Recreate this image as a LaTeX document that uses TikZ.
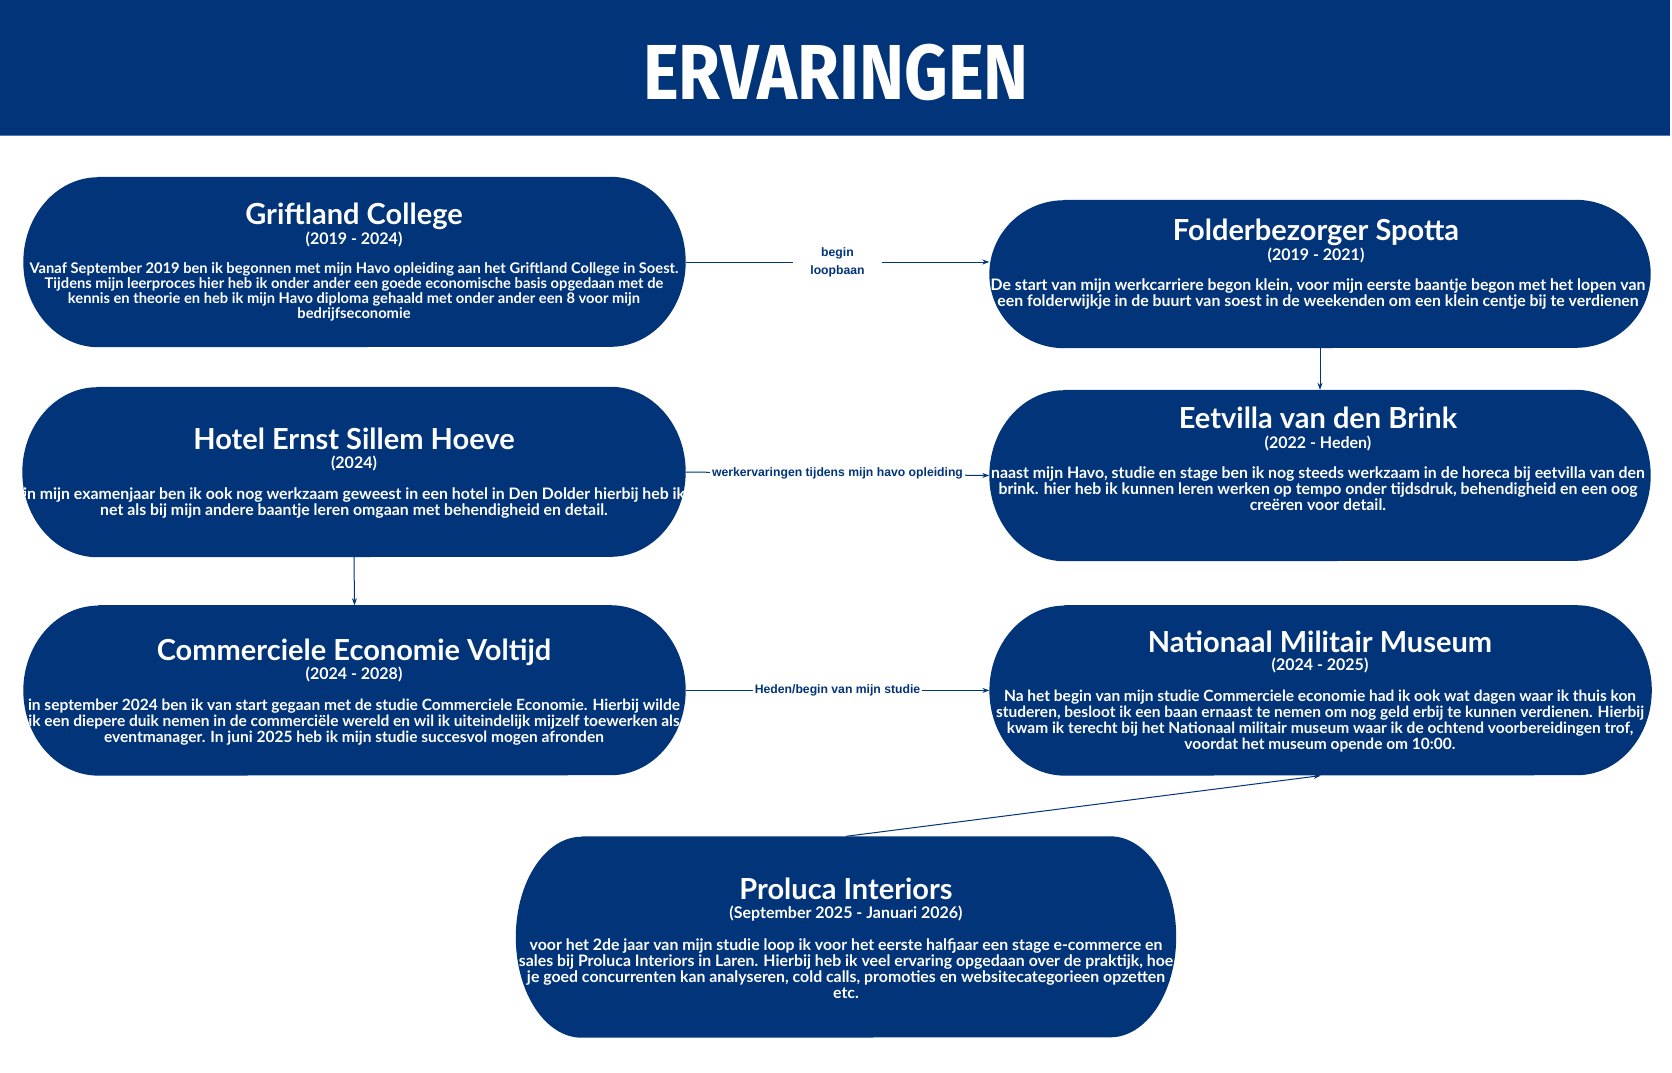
\documentclass[tikz,border=0pt]{standalone}
\usepackage{fontspec}
\setmainfont{Lato}
\newfontfamily\headfont{Fira Sans}[FakeStretch=0.87]
\newfontfamily\labfont{Liberation Sans}
\usetikzlibrary{arrows.meta}
\definecolor{navy}{RGB}{1,52,120}
\definecolor{bandedge}{RGB}{80,120,185}
\newcommand\cardfill[3]{\fill[navy] ([xshift=#2]#1.north west) -- ([xshift=-#2]#1.north east) arc[start angle=90,end angle=-90,x radius=#2,y radius=#3] -- ([xshift=#2]#1.south west) arc[start angle=270,end angle=90,x radius=#2,y radius=#3] -- cycle;}
\newcommand\cardclip[3]{\clip ([xshift=#2]#1.north west) -- ([xshift=-#2]#1.north east) arc[start angle=90,end angle=-90,x radius=#2,y radius=#3] -- ([xshift=#2]#1.south west) arc[start angle=270,end angle=90,x radius=#2,y radius=#3] -- cycle;}
\begin{document}
\begin{tikzpicture}[x=1pt,y=-1pt,
  cardbox/.style={rectangle,draw=none,inner sep=0pt},
  ctitle/.style={text=white,font=\bfseries\fontsize{29}{32}\selectfont,inner sep=0pt,text height=21pt,text depth=0pt},
  cdate/.style={text=white,font=\bfseries\fontsize{16}{18}\selectfont,inner sep=0pt,text height=11.5pt,text depth=0pt},
  cbody/.style={text=white,font=\bfseries\fontsize{15.85}{16}\selectfont,align=center,inner sep=0pt},
  cbodymid/.style={cbody,font=\bfseries\fontsize{15.5}{16}\selectfont},
  cbodysmall/.style={cbody,font=\bfseries\fontsize{14.7}{15.2}\selectfont},
  conn/.style={draw=navy,line width=1pt,-{Stealth[length=7pt,width=5pt]}},
  lab/.style={fill=white,text=navy,font=\labfont\bfseries\fontsize{12.2}{18}\selectfont,inner xsep=2pt,inner ysep=1pt,align=center}]
\useasboundingbox (0,0) rectangle (1672,1072);
\fill[white] (0,0) rectangle (1672,1072);
% header band
\node[cardbox,fill=navy,minimum width=1670pt,minimum height=135pt,anchor=north west] (band) at (0,0) {};
\draw[bandedge,line width=0.8pt] (band.south west) -- (band.south east);
\node[text=white,font=\headfont\bfseries\fontsize{78}{80}\selectfont,inner sep=0pt,text height=54pt,text depth=0pt] (head) at (836,72) {ERVARINGEN};
% card frames
\node[cardbox,minimum width=662pt,minimum height=170pt] (grift) at (354.5,262) {};
\node[cardbox,minimum width=661pt,minimum height=148pt] (folder) at (1320,274) {};
\node[cardbox,minimum width=663pt,minimum height=170pt] (hotel) at (354,472) {};
\node[cardbox,minimum width=661pt,minimum height=171pt] (eet) at (1320,475.5) {};
\node[cardbox,minimum width=662pt,minimum height=170pt] (comm) at (354.5,690.4) {};
\node[cardbox,minimum width=662pt,minimum height=170pt] (nmm) at (1320.6,690.4) {};
\node[cardbox,minimum width=660pt,minimum height=201pt] (prol) at (846,937) {};
\cardfill{grift}{75pt}{85pt}
\cardfill{folder}{75pt}{74pt}
\cardfill{hotel}{75pt}{85pt}
\cardfill{eet}{75pt}{85.5pt}
\cardfill{comm}{75pt}{85pt}
\cardfill{nmm}{75pt}{85pt}
\cardfill{prol}{66pt}{100.5pt}
% texts
\begin{scope}
\cardclip{grift}{75pt}{85pt}
\node[ctitle] (grift-t) at (354,214) {Griftland College};
\node[cdate] (grift-d) at (354,239) {(2019 - 2024)};
\node[cbodysmall] (grift-b) at (354,292) {Vanaf September 2019 ben ik begonnen met mijn Havo opleiding aan het Griftland College in Soest.\\Tijdens mijn leerproces hier heb ik onder ander een goede economische basis opgedaan met de\\kennis en theorie en heb ik mijn Havo diploma gehaald met onder ander een 8 voor mijn\\bedrijfseconomie};
\end{scope}
\begin{scope}
\cardclip{folder}{75pt}{74pt}
\node[ctitle] (folder-t) at (1316,230) {Folderbezorger Spotta};
\node[cdate] (folder-d) at (1316,255) {(2019 - 2021)};
\node[cbody] (folder-b) at (1318,294) {De start van mijn werkcarriere begon klein, voor mijn eerste baantje begon met het lopen van\\een folderwijkje in de buurt van soest in de weekenden om een klein centje bij te verdienen};
\end{scope}
\begin{scope}
\cardclip{hotel}{75pt}{85pt}
\node[ctitle] (hotel-t) at (354,439) {Hotel Ernst Sillem Hoeve};
\node[cdate] (hotel-d) at (354,463) {(2024)};
\node[cbody] (hotel-b) at (354,503) {in mijn examenjaar ben ik ook nog werkzaam geweest in een hotel in Den Dolder hierbij heb ik\\net als bij mijn andere baantje leren omgaan met behendigheid en detail.};
\end{scope}
\begin{scope}
\cardclip{eet}{75pt}{85.5pt}
\node[ctitle] (eet-t) at (1318,418) {Eetvilla van den Brink};
\node[cdate] (eet-d) at (1318,442.5) {(2022 - Heden)};
\node[cbody] (eet-b) at (1318,489) {naast mijn Havo, studie en stage ben ik nog steeds werkzaam in de horeca bij eetvilla van den\\brink. hier heb ik kunnen leren werken op tempo onder tijdsdruk, behendigheid en een oog\\creëren voor detail.};
\end{scope}
\begin{scope}
\cardclip{comm}{75pt}{85pt}
\node[ctitle] (comm-t) at (354,650) {Commerciele Economie Voltijd};
\node[cdate] (comm-d) at (354,674) {(2024 - 2028)};
\node[cbodymid] (comm-b) at (354,722) {in september 2024 ben ik van start gegaan met de studie Commerciele Economie. Hierbij wilde\\ik een diepere duik nemen in de commerciële wereld en wil ik uiteindelijk mijzelf toewerken als\\eventmanager. In juni 2025 heb ik mijn studie succesvol mogen afronden};
\end{scope}
\begin{scope}
\cardclip{nmm}{75pt}{85pt}
\node[ctitle] (nmm-t) at (1320,642) {Nationaal Militair Museum};
\node[cdate] (nmm-d) at (1320,665) {(2024 - 2025)};
\node[cbodymid] (nmm-b) at (1320,721) {Na het begin van mijn studie Commerciele economie had ik ook wat dagen waar ik thuis kon\\studeren, besloot ik een baan ernaast te nemen om nog geld erbij te kunnen verdienen. Hierbij\\kwam ik terecht bij het Nationaal militair museum waar ik de ochtend voorbereidingen trof,\\voordat het museum opende om 10:00.};
\end{scope}
\begin{scope}
\cardclip{prol}{66pt}{100.5pt}
\node[ctitle] (prol-t) at (846,889) {Proluca Interiors};
\node[cdate] (prol-d) at (846,913) {(September 2025 - Januari 2026)};
\node[cbody] (prol-b) at (846,968.5) {voor het 2de jaar van mijn studie loop ik voor het eerste halfjaar een stage e-commerce en\\sales bij Proluca Interiors in Laren. Hierbij heb ik veel ervaring opgedaan over de praktijk, hoe\\je goed concurrenten kan analyseren, cold calls, promoties en websitecategorieen opzetten\\etc.};
\end{scope}
% connectors
\draw[conn] (grift.east) -- node[lab,inner xsep=17pt] (lab1) {begin\\loopbaan} (folder.west |- grift.east);
\draw[conn] (folder.south) -- (eet.north);
\draw[conn] (hotel.east) -- node[lab] (lab2) {werkervaringen tijdens mijn havo opleiding} (eet.west);
\draw[conn] (hotel.south) -- (comm.north);
\draw[conn] (comm.east) -- node[lab] (lab3) {Heden/begin van mijn studie} (nmm.west);
\draw[conn] (prol.north) -- (nmm.south);
\end{tikzpicture}
\end{document}
